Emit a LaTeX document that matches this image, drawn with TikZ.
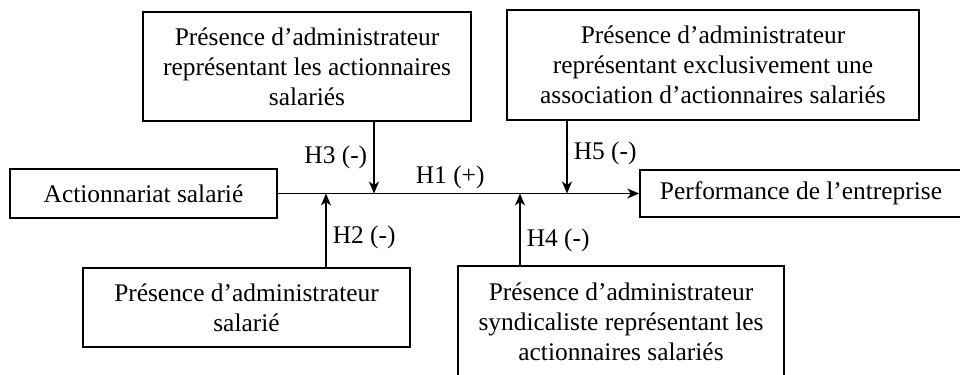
\documentclass[tikz,border=0pt]{standalone}
\usepackage{fontspec}
\setmainfont{Liberation Serif}
\usetikzlibrary{arrows.meta, positioning}

\begin{document}
\begin{tikzpicture}[
    x=0.5pt, y=-0.5pt,
    line width=0.8pt,
    font=\fontsize{12.7}{15}\selectfont,
    >={Stealth[length=6pt, width=5pt, inset=1.8pt]},
    box/.style={draw, rectangle, inner sep=0pt, align=center, fill=white},
    hyp/.style={inner sep=3pt}
]
    \useasboundingbox (0,0) rectangle (960,375);
    \clip (0,0) rectangle (960,375);

    % Main relation
    \node[box, minimum width=133.5pt, minimum height=24.5pt] (share) at (143.5,193.5) {Actionnariat salarié};
    \node[box, minimum width=161pt, minimum height=23.5pt] (perf) at (801,193.5) {Performance de l’entreprise};

    % Board moderators
    \node[box, minimum width=164pt, minimum height=54.5pt] (repr) at (307,66.5) {Présence d’administrateur\\représentant les actionnaires\\salariés};
    \node[box, minimum width=206pt, minimum height=55pt] (assoc) at (713,65) {Présence d’administrateur\\représentant exclusivement une\\association d’actionnaires salariés};
    \node[box, minimum width=163.5pt, minimum height=39.5pt] (empl) at (246.5,307.5) {Présence d’administrateur\\salarié};
    \node[box, minimum width=163pt, minimum height=56pt] (union) at (621,322) {Présence d’administrateur\\syndicaliste représentant les\\actionnaires salariés};

    % Points where the moderators meet the main line
    \coordinate (j2) at (326,193.5);
    \coordinate (j3) at (374,193.5);
    \coordinate (j4) at (520,193.5);
    \coordinate (j5) at (567,193.5);

    \draw[->] (share) -- node[above, pos=0.477, inner sep=2pt] {H1 (+)} (perf);
    \draw[->] (empl.north -| j2) -- node[right, pos=0.4, hyp] {H2 (-)} (j2);
    \draw[->] (repr.south -| j3) -- node[left, hyp] {H3 (-)} (j3);
    \draw[->] (union.north -| j4) -- node[right, pos=0.35, hyp] {H4 (-)} (j4);
    \draw[->] (assoc.south -| j5) -- node[right, pos=0.45, hyp] {H5 (-)} (j5);

\end{tikzpicture}
\end{document}
